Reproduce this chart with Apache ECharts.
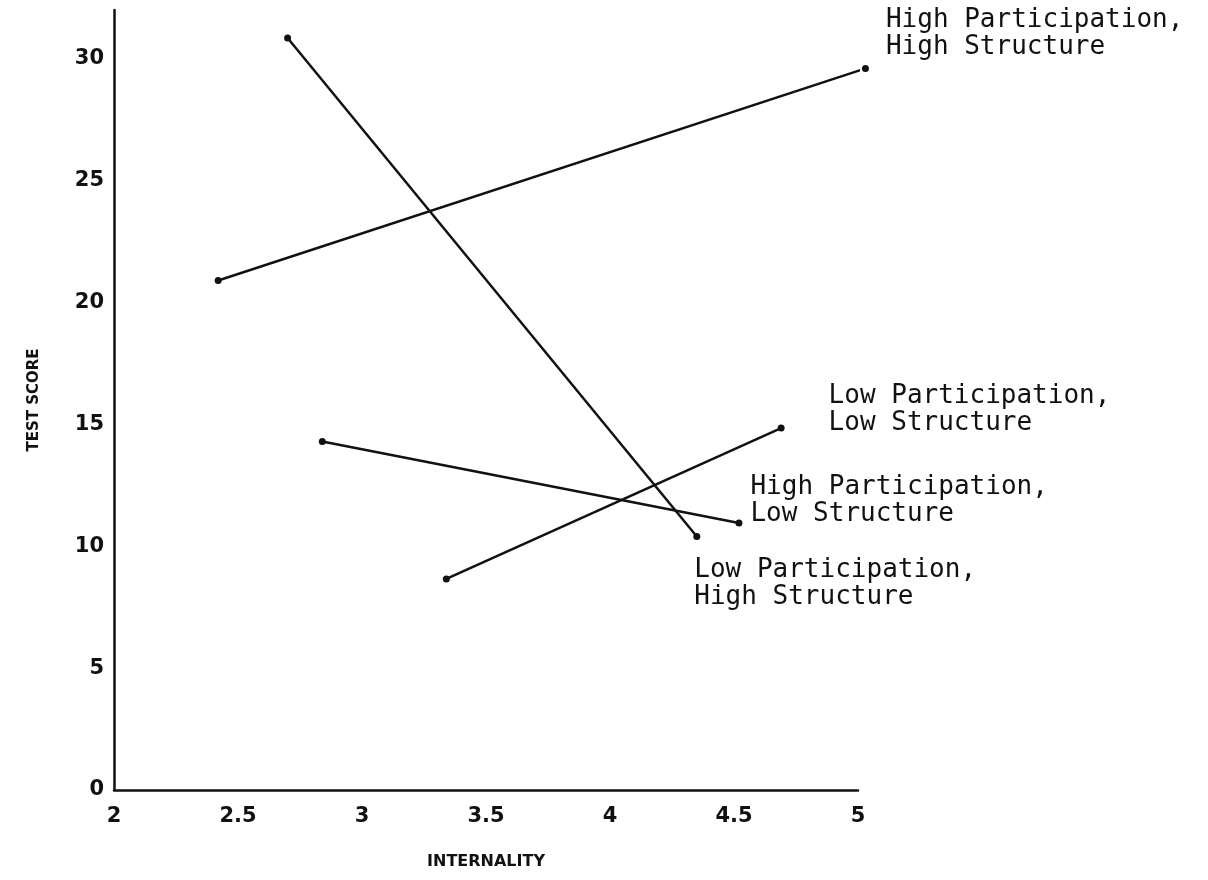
<!DOCTYPE html>
<html>
<head>
<meta charset="utf-8">
<script src="https://cdn.jsdelivr.net/npm/echarts@6/dist/echarts.min.js"></script>
<style>
  html, body { margin: 0; padding: 0; background: #fff; }
  #chart { width: 1208px; height: 880px; }
</style>
</head>
<body>
<div id="chart"></div>
<script>
// groups and their line endpoints (internality, test score)
const groupNames = [
  'High Participation,\nHigh Structure',
  'Low Participation,\nHigh Structure',
  'High Participation,\nLow Structure',
  'Low Participation,\nLow Structure'
]
const internalityStart = [2.42, 2.70, 2.84, 3.34]
const internalityEnd = [5.03, 4.35, 4.52, 4.69]
const scoreStart = [20.9, 30.85, 14.3, 8.66]
const scoreEnd = [29.6, 10.4, 10.95, 14.85]

const xTicks = [2, 2.5, 3, 3.5, 4, 4.5, 5]
const yTicks = [0, 5, 10, 15, 20, 25, 30]

// label placement next to the end point of each line
const labelOffsets = [
  [17, -35],
  [-6, 47],
  [8, -22],
  [44, -18]
]

const ink = '#111'

const chart = echarts.init(document.getElementById('chart'))

const series = groupNames.map((name, i) => ({
  name: name,
  type: 'line',
  clip: false,
  symbol: 'circle',
  symbolSize: 7,
  lineStyle: { color: ink, width: 2.5 },
  itemStyle: { color: ink },
  emphasis: { disabled: true },
  silent: true,
  data: [
    [internalityStart[i], scoreStart[i]],
    {
      value: [internalityEnd[i], scoreEnd[i]],
      label: {
        show: true,
        position: 'right',
        distance: 0,
        offset: labelOffsets[i],
        formatter: name,
        align: 'left',
        verticalAlign: 'middle',
        fontFamily: 'DejaVu Sans Mono',
        fontSize: 26,
        lineHeight: 27,
        color: ink
      }
    }
  ]
}))

const option = {
  backgroundColor: '#fff',
  animation: false,
  grid: { left: 114, right: 350, top: 10, bottom: 90, containLabel: false },
  xAxis: {
    type: 'value',
    min: 2,
    max: 5,
    interval: 0.5,
    name: 'INTERNALITY',
    nameLocation: 'middle',
    nameGap: 64,
    nameTextStyle: { fontFamily: 'DejaVu Sans', fontWeight: 'bold', fontSize: 16, color: ink },
    axisLine: { show: true, lineStyle: { color: ink, width: 2.5 } },
    axisTick: { show: false },
    splitLine: { show: false },
    axisLabel: {
      margin: 16,
      fontFamily: 'DejaVu Sans',
      fontWeight: 'bold',
      fontSize: 21,
      color: ink,
      formatter: v => (xTicks.includes(v) ? String(v) : '')
    }
  },
  yAxis: {
    type: 'value',
    min: 0,
    max: 32,
    interval: 5,
    name: 'TEST SCORE',
    nameLocation: 'middle',
    nameGap: 72,
    nameRotate: 90,
    nameTextStyle: { fontFamily: 'DejaVu Sans', fontWeight: 'bold', fontSize: 15, color: ink },
    axisLine: { show: true, lineStyle: { color: ink, width: 2.5 } },
    axisTick: { show: false },
    splitLine: { show: false },
    axisLabel: {
      margin: 10,
      showMaxLabel: false,
      fontFamily: 'DejaVu Sans',
      fontWeight: 'bold',
      fontSize: 21,
      color: ink,
      formatter: v => (yTicks.includes(v) ? String(v) : '')
    }
  },
  series: series
}

chart.setOption(option)
</script>
</body>
</html>
